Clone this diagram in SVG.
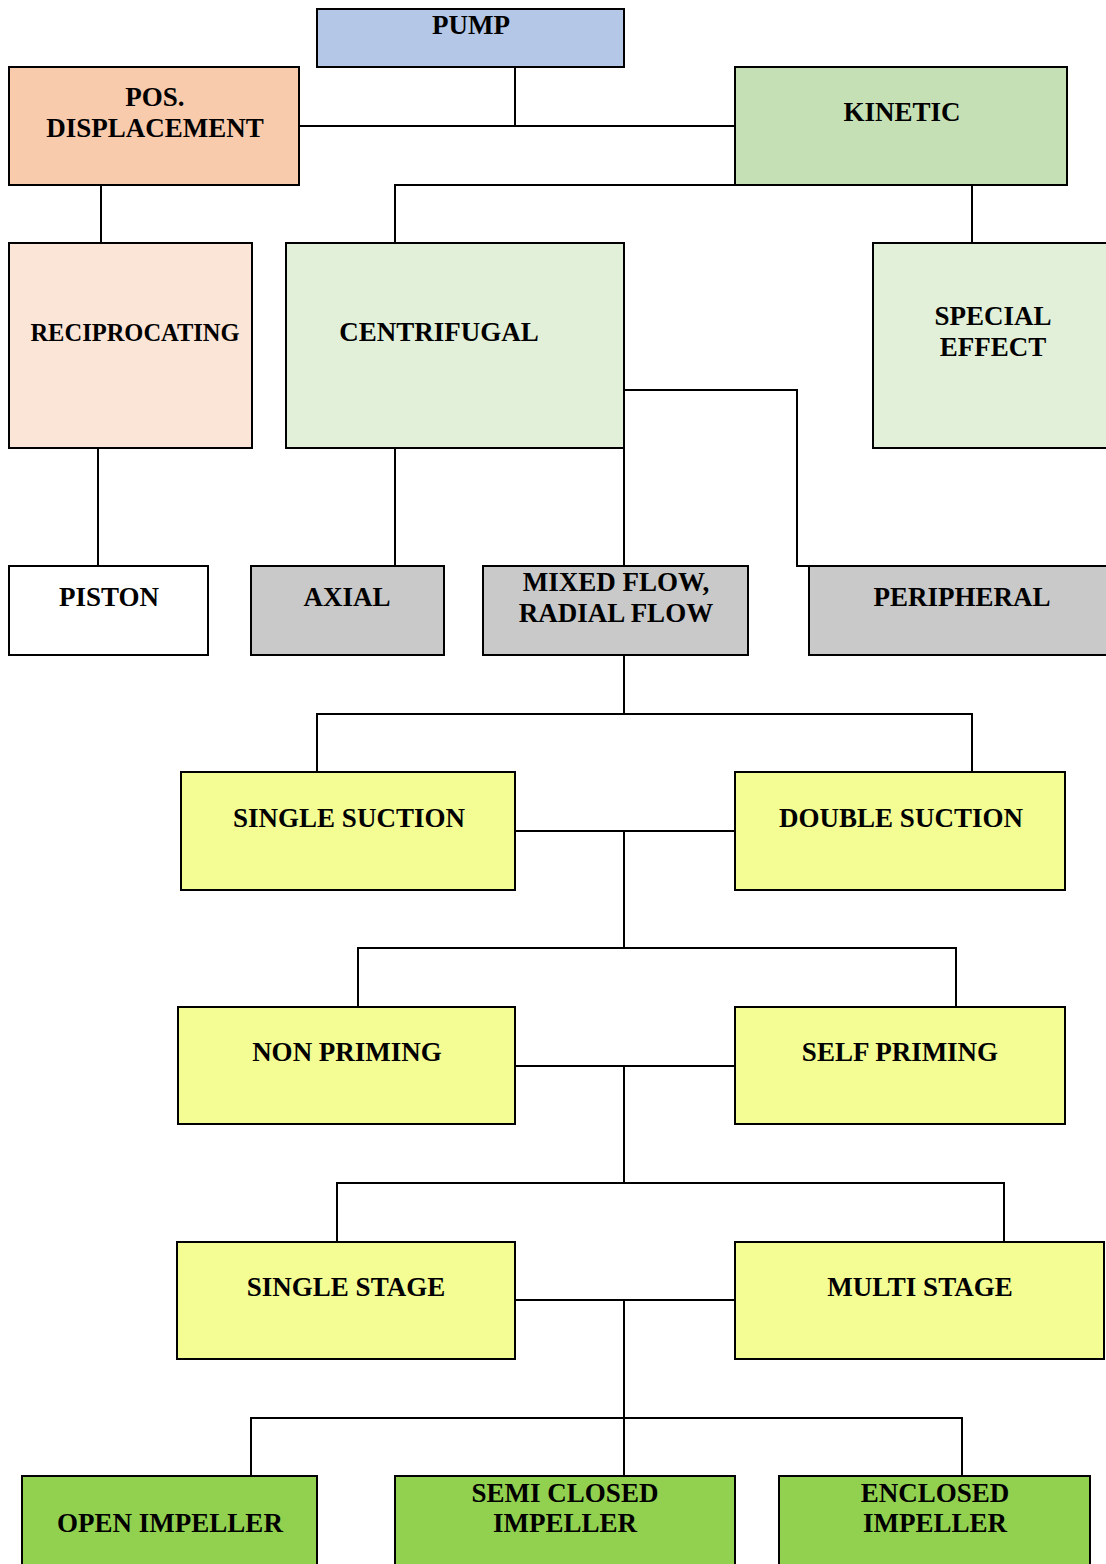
<svg xmlns="http://www.w3.org/2000/svg" width="1106" height="1564" viewBox="0 0 1106 1564">
<style>
.n rect{stroke:#000;stroke-width:2}
text{font-family:"Liberation Serif","Times New Roman",serif;font-weight:bold;font-size:27px;text-anchor:middle;fill:#000}
.c path{fill:none;stroke:#000;stroke-width:2}
.blue{fill:#b4c7e7}.peach{fill:#f8cbad}.lpeach{fill:#fbe5d6}.green{fill:#c5e0b4}.lgreen{fill:#e2f0d9}
.white{fill:#fff}.gray{fill:#c9c9c9}.yellow{fill:#f4fc94}.dgreen{fill:#92d050}
</style>
<rect x="0" y="0" width="1106" height="1564" fill="#fff"/>
<g class="c" id="connectors">
<path d="M515 67V126M299 126H735"/>
<path d="M735 185H395V243"/>
<path d="M972 185V243"/>
<path d="M101 185V243"/>
<path d="M98 448V566"/>
<path d="M395 448V566"/>
<path d="M624 448V566"/>
<path d="M624 390H797V566H809"/>
<path d="M624 655V714M317 772V714H972V772"/>
<path d="M515 831H735M624 831V948M358 1007V948H956V1007"/>
<path d="M515 1066H735M624 1066V1183M337 1242V1183H1004V1242"/>
<path d="M515 1300H735M624 1300V1476M251 1476V1418H962V1476"/>
</g>
<g class="n" id="pump"><rect class="blue" x="317" y="9" width="307" height="58"/><text x="471" y="34">PUMP</text></g>
<g class="n" id="posdisp"><rect class="peach" x="9" y="67" width="290" height="118"/><text x="155" y="106">POS.</text><text x="155" y="137">DISPLACEMENT</text></g>
<g class="n" id="kinetic"><rect class="green" x="735" y="67" width="332" height="118"/><text x="902" y="121">KINETIC</text></g>
<g class="n" id="reciprocating"><rect class="lpeach" x="9" y="243" width="243" height="205"/><text x="135" y="341" style="font-size:24.5px">RECIPROCATING</text></g>
<g class="n" id="centrifugal"><rect class="lgreen" x="286" y="243" width="338" height="205"/><text x="439" y="341">CENTRIFUGAL</text></g>
<g class="n" id="special"><rect class="lgreen" x="873" y="243" width="240" height="205"/><text x="993" y="325">SPECIAL</text><text x="993" y="356">EFFECT</text></g>
<g class="n" id="piston"><rect class="white" x="9" y="566" width="199" height="89"/><text x="109" y="606">PISTON</text></g>
<g class="n" id="axial"><rect class="gray" x="251" y="566" width="193" height="89"/><text x="347" y="606">AXIAL</text></g>
<g class="n" id="mixed"><rect class="gray" x="483" y="566" width="265" height="89"/><text x="616" y="591">MIXED FLOW,</text><text x="616" y="622">RADIAL FLOW</text></g>
<g class="n" id="peripheral"><rect class="gray" x="809" y="566" width="304" height="89"/><text x="962" y="606">PERIPHERAL</text></g>
<g class="n" id="singlesuction"><rect class="yellow" x="181" y="772" width="334" height="118"/><text x="349" y="827">SINGLE SUCTION</text></g>
<g class="n" id="doublesuction"><rect class="yellow" x="735" y="772" width="330" height="118"/><text x="901" y="827">DOUBLE SUCTION</text></g>
<g class="n" id="nonpriming"><rect class="yellow" x="178" y="1007" width="337" height="117"/><text x="347" y="1061">NON PRIMING</text></g>
<g class="n" id="selfpriming"><rect class="yellow" x="735" y="1007" width="330" height="117"/><text x="900" y="1061">SELF PRIMING</text></g>
<g class="n" id="singlestage"><rect class="yellow" x="177" y="1242" width="338" height="117"/><text x="346" y="1296">SINGLE STAGE</text></g>
<g class="n" id="multistage"><rect class="yellow" x="735" y="1242" width="369" height="117"/><text x="920" y="1296">MULTI STAGE</text></g>
<g class="n" id="open"><rect class="dgreen" x="22" y="1476" width="295" height="100"/><text x="170" y="1532">OPEN IMPELLER</text></g>
<g class="n" id="semiclosed"><rect class="dgreen" x="395" y="1476" width="340" height="100"/><text x="565" y="1502">SEMI CLOSED</text><text x="565" y="1532">IMPELLER</text></g>
<g class="n" id="enclosed"><rect class="dgreen" x="779" y="1476" width="311" height="100"/><text x="935" y="1502">ENCLOSED</text><text x="935" y="1532">IMPELLER</text></g>
</svg>
